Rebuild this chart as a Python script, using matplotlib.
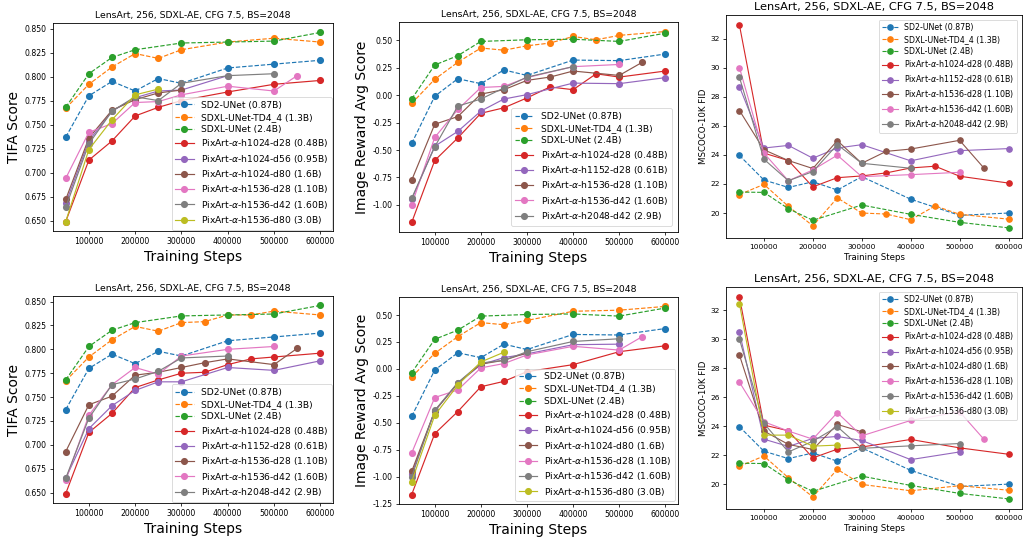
import matplotlib
matplotlib.use("Agg")
import matplotlib.pyplot as plt
from matplotlib.ticker import FixedLocator

W, H = 1025, 540
TITLE = "LensArt, 256, SDXL-AE, CFG 7.5, BS=2048"

# training steps (x values) shared by several series
S9 = [50000, 100000, 150000, 200000, 250000, 300000, 400000, 500000, 600000]
S_SDXL = [50000, 100000, 150000, 200000, 300000, 400000, 500000, 600000]
S_DENSE = [50000, 100000, 150000, 200000, 250000, 300000, 350000, 400000, 450000, 500000, 600000]
S_TO250 = [50000, 100000, 150000, 200000, 250000]
S_TO300 = [50000, 100000, 150000, 200000, 250000, 300000]
S_TO400 = [50000, 100000, 150000, 200000, 250000, 300000, 400000]
S_TO500 = [50000, 100000, 150000, 200000, 250000, 300000, 400000, 500000]
S_TO550 = [50000, 100000, 150000, 200000, 250000, 300000, 400000, 500000, 550000]
S_BROWN = [50000, 100000, 150000, 200000, 250000, 300000, 350000, 400000, 500000, 550000]
S_RED_B = [50000, 100000, 150000, 200000, 250000, 300000, 400000, 500000, 600000]

LBL_SD2 = "SD2-UNet (0.87B)"
LBL_TD4 = "SDXL-UNet-TD4_4 (1.3B)"
LBL_SDXL = "SDXL-UNet (2.4B)"
LBL_A = [r"PixArt-$\alpha$-h1024-d28 (0.48B)", r"PixArt-$\alpha$-h1024-d56 (0.95B)",
         r"PixArt-$\alpha$-h1024-d80 (1.6B)", r"PixArt-$\alpha$-h1536-d28 (1.10B)",
         r"PixArt-$\alpha$-h1536-d42 (1.60B)", r"PixArt-$\alpha$-h1536-d80 (3.0B)"]
LBL_B = [r"PixArt-$\alpha$-h1024-d28 (0.48B)", r"PixArt-$\alpha$-h1152-d28 (0.61B)",
         r"PixArt-$\alpha$-h1536-d28 (1.10B)", r"PixArt-$\alpha$-h1536-d42 (1.60B)",
         r"PixArt-$\alpha$-h2048-d42 (2.9B)"]

# --- TIFA, top row (set A) ---
tifa_sd2 = [.737, .780, .795, .785, .798, .793, .809, .813, .817]
tifa_td4_top = [.767, .792, .810, .824, .819, .828, .836, .840, .836]
tifa_sdxl = [.768, .803, .820, .828, .835, .836, .837, .846]
tifa_a_red = [.649, .713, .733, .759, .768, .775, .784, .792, .796]
tifa_a_purple = [.668, .733, .764, .778, .785, .786, .801]
tifa_a_brown = [.672, .736, .765, .776, .783, .786]
tifa_a_pink = [.694, .742, .751, .773, .774, .781, .790, .785, .801]
tifa_a_gray = [.664, .730, .764, .779, .775, .793, .801, .803]
tifa_a_olive = [.649, .724, .755, .781, .787]

# --- TIFA, bottom row (set B) ---
tifa_td4_bot = [.767, .792, .810, .824, .819, .828, .829, .836, .836, .840, .836]
tifa_b_red = [.649, .713, .733, .760, .768, .775, .776, .784, .790, .792, .796]
tifa_b_purple = [.665, .717, .741, .757, .766, .766, .781, .778, .788]
tifa_b_brown = [.693, .742, .751, .773, .776, .781, .786, .790, .784, .801]
tifa_b_pink = [.663, .731, .763, .781, .774, .793, .800, .803]
tifa_b_gray = [.665, .728, .763, .769, .777, .791, .793]

# --- Image Reward, top row (set B) ---
ir_sd2 = [-0.44, -0.01, 0.15, 0.105, 0.23, 0.18, 0.32, 0.315, 0.375]
ir_td4_top = [-0.075, 0.145, 0.30, 0.43, 0.41, 0.45, 0.475, 0.535, 0.505, 0.545, 0.58]
ir_sdxl = [-0.035, 0.275, 0.36, 0.49, 0.505, 0.51, 0.49, 0.565]
ir_b_red = [-1.16, -0.595, -0.39, -0.165, -0.115, -0.025, 0.075, 0.05, 0.195, 0.165, 0.22]
ir_b_purple = [-0.95, -0.465, -0.33, -0.145, -0.035, 0.005, 0.11, 0.105, 0.16]
ir_b_brown = [-0.775, -0.265, -0.195, 0.01, 0.05, 0.135, 0.165, 0.22, 0.18, 0.30]
ir_b_pink = [-1.0, -0.385, -0.13, 0.07, 0.08, 0.16, 0.26, 0.28]
ir_b_gray = [-0.94, -0.47, -0.10, -0.035, 0.066, 0.165, 0.26]

# --- Image Reward, bottom row (set A) ---
ir_td4_bot = [-0.075, 0.145, 0.30, 0.43, 0.41, 0.45, 0.535, 0.545, 0.58]
ir_a_red = [-1.165, -0.60, -0.395, -0.165, -0.115, -0.025, 0.04, 0.16, 0.215]
ir_a_purple = [-0.975, -0.39, -0.135, 0.04, 0.105, 0.14, 0.225, 0.23]
ir_a_brown = [-0.95, -0.39, -0.13, 0.045, 0.08, 0.15]
ir_a_pink = [-0.78, -0.265, -0.195, 0.01, 0.05, 0.13, 0.21, 0.175, 0.30]
ir_a_gray = [-1.0, -0.385, -0.127, 0.055, 0.08, 0.16, 0.255, 0.28]
ir_a_olive = [-1.045, -0.43, -0.15, 0.065, 0.155]

# --- FID, top row (set B) ---
fid_sd2 = [23.96, 22.27, 21.76, 22.15, 21.58, 22.5, 20.95, 19.84, 20.0]
fid_td4_top = [21.27, 21.97, 20.46, 19.12, 21.04, 20.0, 19.93, 19.54, 20.49, 19.91, 19.58]
fid_sdxl = [21.44, 21.42, 20.3, 19.5, 20.55, 19.91, 19.36, 18.98]
fid_b_red = [32.92, 24.12, 23.61, 21.8, 22.43, 22.55, 22.76, 23.1, 23.22, 22.53, 22.06]
fid_b_purple = [28.69, 24.47, 24.65, 23.77, 24.47, 24.70, 23.59, 24.29, 24.43]
fid_b_brown = [27.05, 24.35, 23.61, 23.06, 24.98, 23.42, 24.24, 24.4, 25.0, 23.08]
fid_b_pink = [30.0, 24.12, 22.22, 22.96, 23.98, 22.5, 22.64, 22.8]
fid_b_gray = [29.33, 23.7, 22.22, 22.85, 24.7, 23.42, 23.08]

# --- FID, bottom row (set A) ---
fid_td4_bot = [21.23, 21.94, 20.44, 19.12, 21.02, 19.98, 19.54, 19.89, 19.58]
fid_a_red = [32.9, 24.07, 23.68, 21.81, 22.41, 22.56, 23.08, 22.5, 22.06]
fid_a_purple = [30.48, 23.1, 22.6, 23.15, 23.29, 23.01, 21.69, 22.22]
fid_a_brown = [28.9, 23.66, 22.74, 22.39, 24.12, 23.61]
fid_a_pink = [27.03, 24.3, 23.66, 23.1, 24.93, 23.33, 24.39, 24.99, 23.08]
fid_a_gray = [30.0, 24.19, 22.22, 22.96, 23.96, 22.47, 22.64, 22.8]
fid_a_olive = [32.44, 23.38, 23.38, 22.62, 22.69]

COLORS = ["tab:blue", "tab:orange", "tab:green", "tab:red", "tab:purple",
          "tab:brown", "tab:pink", "tab:gray", "tab:olive"]


def px_rect(l, t, r, b):
    return [l / W, 1 - b / H, (r - l) / W, (b - t) / H]


def draw_panel(ax, series, ylabel, yticks, style):
    for i, (x, y, lbl) in enumerate(series):
        ls = "--" if i < 3 else "-"
        ax.plot(x, y, ls, marker="o", color=COLORS[i], label=lbl,
                lw=style["lw"], ms=style["ms"])
    ax.set_title(TITLE, fontsize=style["title"], pad=style["tpad"])
    ax.set_xlabel("Training Steps", fontsize=style["label"], labelpad=style["lpad"])
    ax.set_ylabel(ylabel, fontsize=style["label"], labelpad=style["lpad"])
    ax.xaxis.set_major_locator(FixedLocator([100000, 200000, 300000, 400000, 500000, 600000]))
    ax.set_xticklabels(["100000", "200000", "300000", "400000", "500000", "600000"])
    ax.yaxis.set_major_locator(FixedLocator(yticks))
    ax.set_yticklabels([style["yfmt"].format(v) for v in yticks])
    ax.tick_params(labelsize=style["tick"], length=2.4, width=0.55, pad=2)
    for s in ax.spines.values():
        s.set_linewidth(0.6)
    leg = ax.legend(loc=style["loc"], fontsize=style["legend"],
                    borderaxespad=style["bpad"], handlelength=2.0,
                    labelspacing=style["lspace"], borderpad=0.4)
    leg.get_frame().set_linewidth(0.6)


fig = plt.figure(figsize=(W / 100, H / 100), dpi=100)

big = dict(lw=0.85, ms=4.1, title=6.7, label=10, lpad=2.5, tpad=3.5, tick=5.6,
           legend=6.6, lspace=0.36)
small = dict(lw=0.8, ms=3.8, title=8.2, label=6.2, lpad=2.0, tpad=3.5, tick=5.4,
             legend=5.7, lspace=0.36)

tifa_ticks = [0.650, 0.675, 0.700, 0.725, 0.750, 0.775, 0.800, 0.825, 0.850]
ir_ticks = [-1.25, -1.00, -0.75, -0.50, -0.25, 0.00, 0.25, 0.50]
fid_ticks = [20, 22, 24, 26, 28, 30, 32]

# top-left: TIFA (set A)
ax = fig.add_axes(px_rect(53, 23, 333, 231))
draw_panel(ax, [
    (S9, tifa_sd2, LBL_SD2), (S9, tifa_td4_top, LBL_TD4), (S_SDXL, tifa_sdxl, LBL_SDXL),
    (S_RED_B, tifa_a_red, LBL_A[0]), (S_TO400, tifa_a_purple, LBL_A[1]),
    (S_TO300, tifa_a_brown, LBL_A[2]), (S_TO550, tifa_a_pink, LBL_A[3]),
    (S_TO500, tifa_a_gray, LBL_A[4]), (S_TO250, tifa_a_olive, LBL_A[5]),
], "TIFA Score", tifa_ticks, dict(big, yfmt="{:.3f}", loc="lower right", bpad=0.15))

# top-middle: Image Reward (set B)
ax = fig.add_axes(px_rect(399, 22, 678, 232))
draw_panel(ax, [
    (S9, ir_sd2, LBL_SD2), (S_DENSE, ir_td4_top, LBL_TD4), (S_SDXL, ir_sdxl, LBL_SDXL),
    (S_DENSE, ir_b_red, LBL_B[0]), (S9, ir_b_purple, LBL_B[1]),
    (S_BROWN, ir_b_brown, LBL_B[2]), (S_TO500, ir_b_pink, LBL_B[3]),
    (S_TO400, ir_b_gray, LBL_B[4]),
], "Image Reward Avg Score", ir_ticks, dict(big, yfmt="{:.2f}", loc="lower right", bpad=0.7))

# top-right: FID (set B)
ax = fig.add_axes(px_rect(726, 15, 1022, 238))
draw_panel(ax, [
    (S9, fid_sd2, LBL_SD2), (S_DENSE, fid_td4_top, LBL_TD4), (S_SDXL, fid_sdxl, LBL_SDXL),
    (S_DENSE, fid_b_red, LBL_B[0]), (S9, fid_b_purple, LBL_B[1]),
    (S_BROWN, fid_b_brown, LBL_B[2]), (S_TO500, fid_b_pink, LBL_B[3]),
    (S_TO400, fid_b_gray, LBL_B[4]),
], "MSCOCO-10K FID", fid_ticks, dict(small, yfmt="{:d}", loc="upper right", bpad=0.6))

# bottom-left: TIFA (set B)
ax = fig.add_axes(px_rect(53, 296, 333, 503))
draw_panel(ax, [
    (S9, tifa_sd2, LBL_SD2), (S_DENSE, tifa_td4_bot, LBL_TD4), (S_SDXL, tifa_sdxl, LBL_SDXL),
    (S_DENSE, tifa_b_red, LBL_B[0]), (S9, tifa_b_purple, LBL_B[1]),
    (S_BROWN, tifa_b_brown, LBL_B[2]), (S_TO500, tifa_b_pink, LBL_B[3]),
    (S_TO400, tifa_b_gray, LBL_B[4]),
], "TIFA Score", tifa_ticks, dict(big, yfmt="{:.3f}", loc="lower right", bpad=0.15))

# bottom-middle: Image Reward (set A)
ax = fig.add_axes(px_rect(399, 297, 678, 504))
draw_panel(ax, [
    (S9, ir_sd2, LBL_SD2), (S9, ir_td4_bot, LBL_TD4), (S_SDXL, ir_sdxl, LBL_SDXL),
    (S_RED_B, ir_a_red, LBL_A[0]), (S_TO500, ir_a_purple, LBL_A[1]),
    (S_TO300, ir_a_brown, LBL_A[2]), (S_TO550, ir_a_pink, LBL_A[3]),
    (S_TO500, ir_a_gray, LBL_A[4]), (S_TO250, ir_a_olive, LBL_A[5]),
], "Image Reward Avg Score", ir_ticks, dict(big, yfmt="{:.2f}", loc="lower right", bpad=0.3))

# bottom-right: FID (set A)
ax = fig.add_axes(px_rect(726, 287, 1022, 509))
draw_panel(ax, [
    (S9, fid_sd2, LBL_SD2), (S9, fid_td4_bot, LBL_TD4), (S_SDXL, fid_sdxl, LBL_SDXL),
    (S_RED_B, fid_a_red, LBL_A[0]), (S_TO500, fid_a_purple, LBL_A[1]),
    (S_TO300, fid_a_brown, LBL_A[2]), (S_TO550, fid_a_pink, LBL_A[3]),
    (S_TO500, fid_a_gray, LBL_A[4]), (S_TO250, fid_a_olive, LBL_A[5]),
], "MSCOCO-10K FID", fid_ticks, dict(small, yfmt="{:d}", loc="upper right", bpad=0.6))

fig.savefig("out.png", dpi=100)
